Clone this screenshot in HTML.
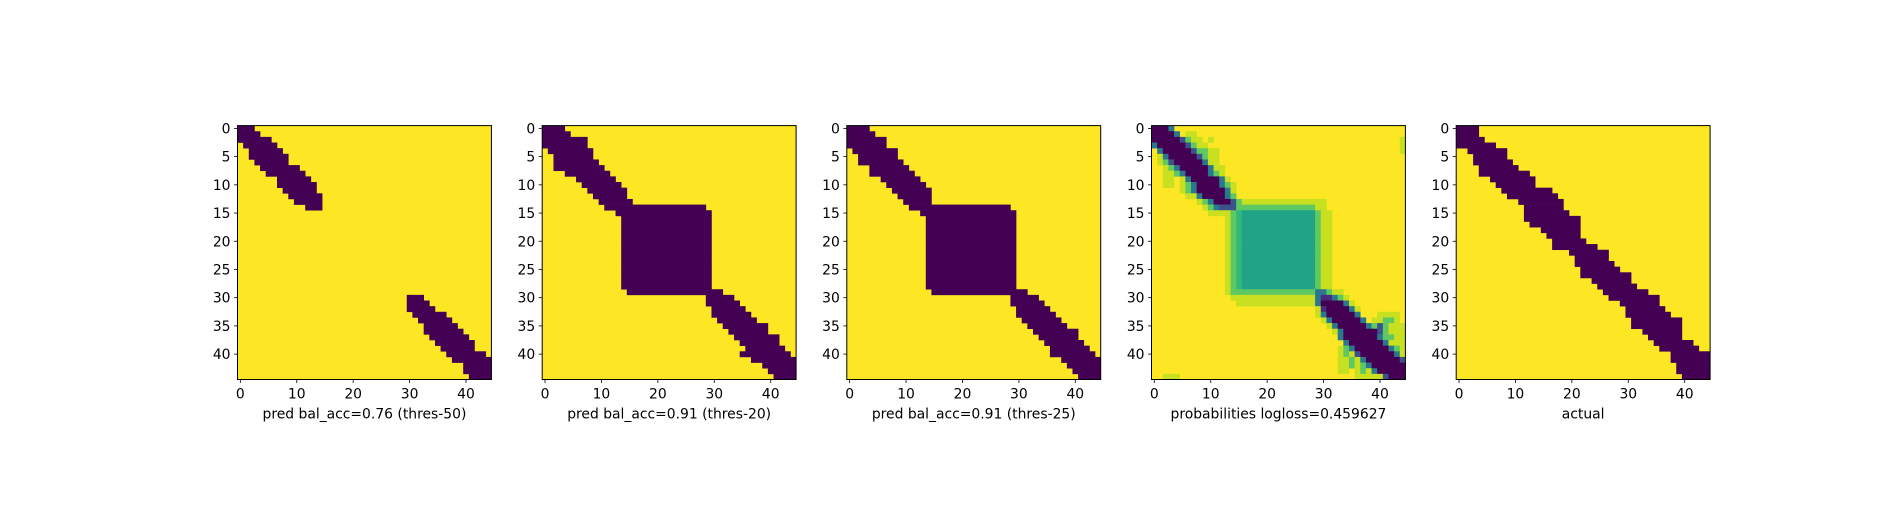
<!DOCTYPE html>
<html><head><meta charset="utf-8"><style>
html,body{margin:0;padding:0;background:#fff;}
svg text{font-family:"DejaVu Sans","Liberation Sans",sans-serif;font-size:13.9px;fill:#000;}
</style></head><body>
<svg id="fig" width="1900" height="500" xmlns="http://www.w3.org/2000/svg"></svg>
<script>
const titles = ["pred bal_acc=0.76 (thres-50)","pred bal_acc=0.91 (thres-20)","pred bal_acc=0.91 (thres-25)","probabilities logloss=0.459627","actual"];
const xTicks = [0,10,20,30,40];
const yTicks = [0,5,10,15,20,25,30,35,40];
const p1Starts = [0,0,0,1,2,2,3,4,5,7,7,8,9,10,12,-1,-1,-1,-1,-1,-1,-1,-1,-1,-1,-1,-1,-1,-1,-1,30,30,30,31,32,33,33,34,35,36,37,38,40,40,41];
const p1Ends   = [3,4,6,7,8,9,9,11,12,13,14,14,15,15,15,-1,-1,-1,-1,-1,-1,-1,-1,-1,-1,-1,-1,-1,-1,-1,33,34,35,37,38,39,40,41,42,42,44,45,45,45,45];
const p2Starts = [0,0,0,0,1,2,2,2,4,6,7,8,9,10,11,13,14,14,14,14,14,14,14,14,14,14,14,14,14,15,29,29,30,30,31,32,33,34,35,36,35,37,39,40,41];
const p2Ends   = [4,5,8,8,9,9,10,11,12,13,14,15,15,16,29,30,30,30,30,30,30,30,30,30,30,30,30,30,30,32,34,35,36,37,38,40,40,42,42,43,44,45,45,45,45];
const p3Starts = [0,0,0,0,1,2,2,4,4,6,7,8,9,10,11,13,14,14,14,14,14,14,14,14,14,14,14,14,14,15,29,29,30,30,31,32,33,34,35,36,36,38,39,40,41];
const p3Ends   = [4,5,7,7,9,9,10,11,12,13,14,15,15,15,29,30,30,30,30,30,30,30,30,30,30,30,30,30,30,32,34,35,36,37,38,39,41,41,42,43,44,45,45,45,45];
const actStarts = [0,0,0,0,2,3,3,4,4,6,7,8,9,11,12,12,12,13,15,16,17,17,20,21,21,22,22,24,25,26,27,29,30,30,31,31,33,34,35,36,38,38,39,39,40];
const actEnds   = [4,4,5,7,9,9,10,11,13,14,14,17,18,19,19,20,22,22,22,22,23,25,27,27,28,29,31,31,32,34,36,36,37,38,40,40,40,40,42,43,45,45,45,45,45];
const probRows = [
"p3 c1 y41","p4 c1 y1 l2","p5 b1 g1 l2 y1 l1 y33 l1","c1 p5 b1 g1 l2 y34 l1","y1 c1 p5 b1 g2 l2 y32 l1",
"y1 l1 c1 p5 b1 g1 l2","y1 l1 g1 b1 p5 c1 l2","y2 l1 g1 c1 p5 c1 l2","y2 l2 g1 c1 p4 c1 g1 l1","y2 l2 y1 l1 c1 p5 c1 l1",
"y2 l2 y1 l1 g1 c1 p4 c1 g1 l1","y5 l1 g1 c1 p5 c1 l1","y6 l2 c1 p4 c1 g1","y8 l1 g1 c1 p3 b1 g1 l15","y9 l1 g1 c1 b3 g14 l2",
"y10 l4 g1 m1 t13 g1 l2","y13 l1 g1 m1 t13 g1 l2","y13 l1 g1 m1 t13 g1 l2","y13 l1 g1 m1 t13 g1 l2","y13 l1 g1 m1 t13 g1 l2",
"y13 l1 g1 m1 t13 g1 l2","y13 l1 g1 m1 t13 g1 l2","y13 l1 g1 m1 t13 g1 l2","y13 l1 g1 m1 t13 g1 l2","y13 l1 g1 m1 t13 g1 l2",
"y13 l1 g1 m1 t13 g1 l2","y13 l1 g1 m1 t13 g1 l2","y13 l1 g1 m1 t13 g1 l2","y13 l1 g1 m1 t13 g1 l2","y13 l1 g15 c2 g1 l2",
"y14 l15 c1 q2 c1 g1 l1","y15 l14 c1 p4 c1 l1","y29 l1 q1 p4 c1 l1","y29 l1 c1 p5 c1 y3 l4","y30 l1 c1 p5 c1 y1 l2 g2 l1",
"y31 l1 c1 p5 c1 g1 b1 g1 l3","y32 l1 c1 p6 b1 g1 l3","y33 c1 p6 c1 g2 l2","y34 c1 p6 c1 l3","y33 l1 g1 c1 p6 c1 g1 l1",
"y33 l1 g1 l1 b1 p6 c1 l1","y33 l2 g1 l1 c1 p6 b1","y33 l2 g1 l1 g1 c1 p6","y33 l2 y1 l1 g1 l1 c1 p5","y2 l3 y31 l5 b1 p3"
];
const colors = {p:"#440154",q:"#472d7b",b:"#3b528b",c:"#2a788e",t:"#20a386",m:"#35b779",g:"#5ec962",l:"#c8e020",y:"#fde725"};
const N = 45;
const axLeft = [237.5,542.2,846.8,1151.5,1456.2];
const axTop = 125.6, axSize = 253.9, cell = axSize/N;
const svg = document.getElementById('fig');
const NS = "http://www.w3.org/2000/svg";
function mk(tag, attrs, parent){const e=document.createElementNS(NS,tag);for(const k in attrs)e.setAttribute(k,attrs[k]);parent.appendChild(e);return e;}
function xs(i,v){return axLeft[i]+(v+0.5)*cell;}
function ys(v){return axTop+(v+0.5)*cell;}

function drawPanel(i, fillFn){
  const g = mk('g',{},svg);
  
  
  fillFn(g);
  const frame = mk('rect',{x:axLeft[i],y:axTop,width:axSize,height:axSize,fill:'none',stroke:'#000','stroke-width':1},g);
  
  
  xTicks.forEach(v=>{
    const x=xs(i,v);
    const t=mk('line',{x1:x,x2:x,y1:axTop+axSize,y2:axTop+axSize+3.5,stroke:'#000','stroke-width':0.8},g);
    
    
    const lb=mk('text',{x:x,y:axTop+axSize+19,'text-anchor':'middle'},g);
    
    
    lb.textContent=v;
  });
  yTicks.forEach(v=>{
    const y=ys(v);
    const t=mk('line',{x1:axLeft[i]-3.5,x2:axLeft[i],y1:y,y2:y,stroke:'#000','stroke-width':0.8},g);
    
    
    const lb=mk('text',{x:axLeft[i]-7,y:y+5,'text-anchor':'end'},g);
    
    
    lb.textContent=v;
  });
  const tt=mk('text',{x:axLeft[i]+axSize/2,y:axTop+axSize+39,'text-anchor':'middle'},g);
  
  
  tt.textContent=titles[i];
}

function bandFill(i, starts, ends){
  return function(g){
    const bg=mk('rect',{x:axLeft[i],y:axTop,width:axSize,height:axSize,fill:colors.y},g);
    
    
    for(let r=0;r<N;r++){
      if(starts[r]<0) continue;
      const x0=xs(i,starts[r]-0.5), x1=xs(i,ends[r]-0.5);
      const c=mk('rect',{x:x0,y:ys(r-0.5),width:x1-x0+0.3,height:cell+0.3,fill:colors.p},g);
      
      
    }
  };
}
function probFill(i){
  return function(g){
    const bg=mk('rect',{x:axLeft[i],y:axTop,width:axSize,height:axSize,fill:colors.y},g);
    
    
    probRows.forEach((row,r)=>{
      let col=0;
      row.split(' ').forEach(tok=>{
        const ch=tok[0], n=parseInt(tok.slice(1));
        if(ch!=='y'){
          const x0=xs(i,col-0.5), x1=xs(i,col+n-0.5);
          const c=mk('rect',{x:x0,y:ys(r-0.5),width:x1-x0+0.3,height:cell+0.3,fill:colors[ch]},g);
          
          
        }
        col+=n;
      });
    });
  };
}
drawPanel(0,bandFill(0,p1Starts,p1Ends));
drawPanel(1,bandFill(1,p2Starts,p2Ends));
drawPanel(2,bandFill(2,p3Starts,p3Ends));
drawPanel(3,probFill(3));
drawPanel(4,bandFill(4,actStarts,actEnds));
</script>
</body></html>
